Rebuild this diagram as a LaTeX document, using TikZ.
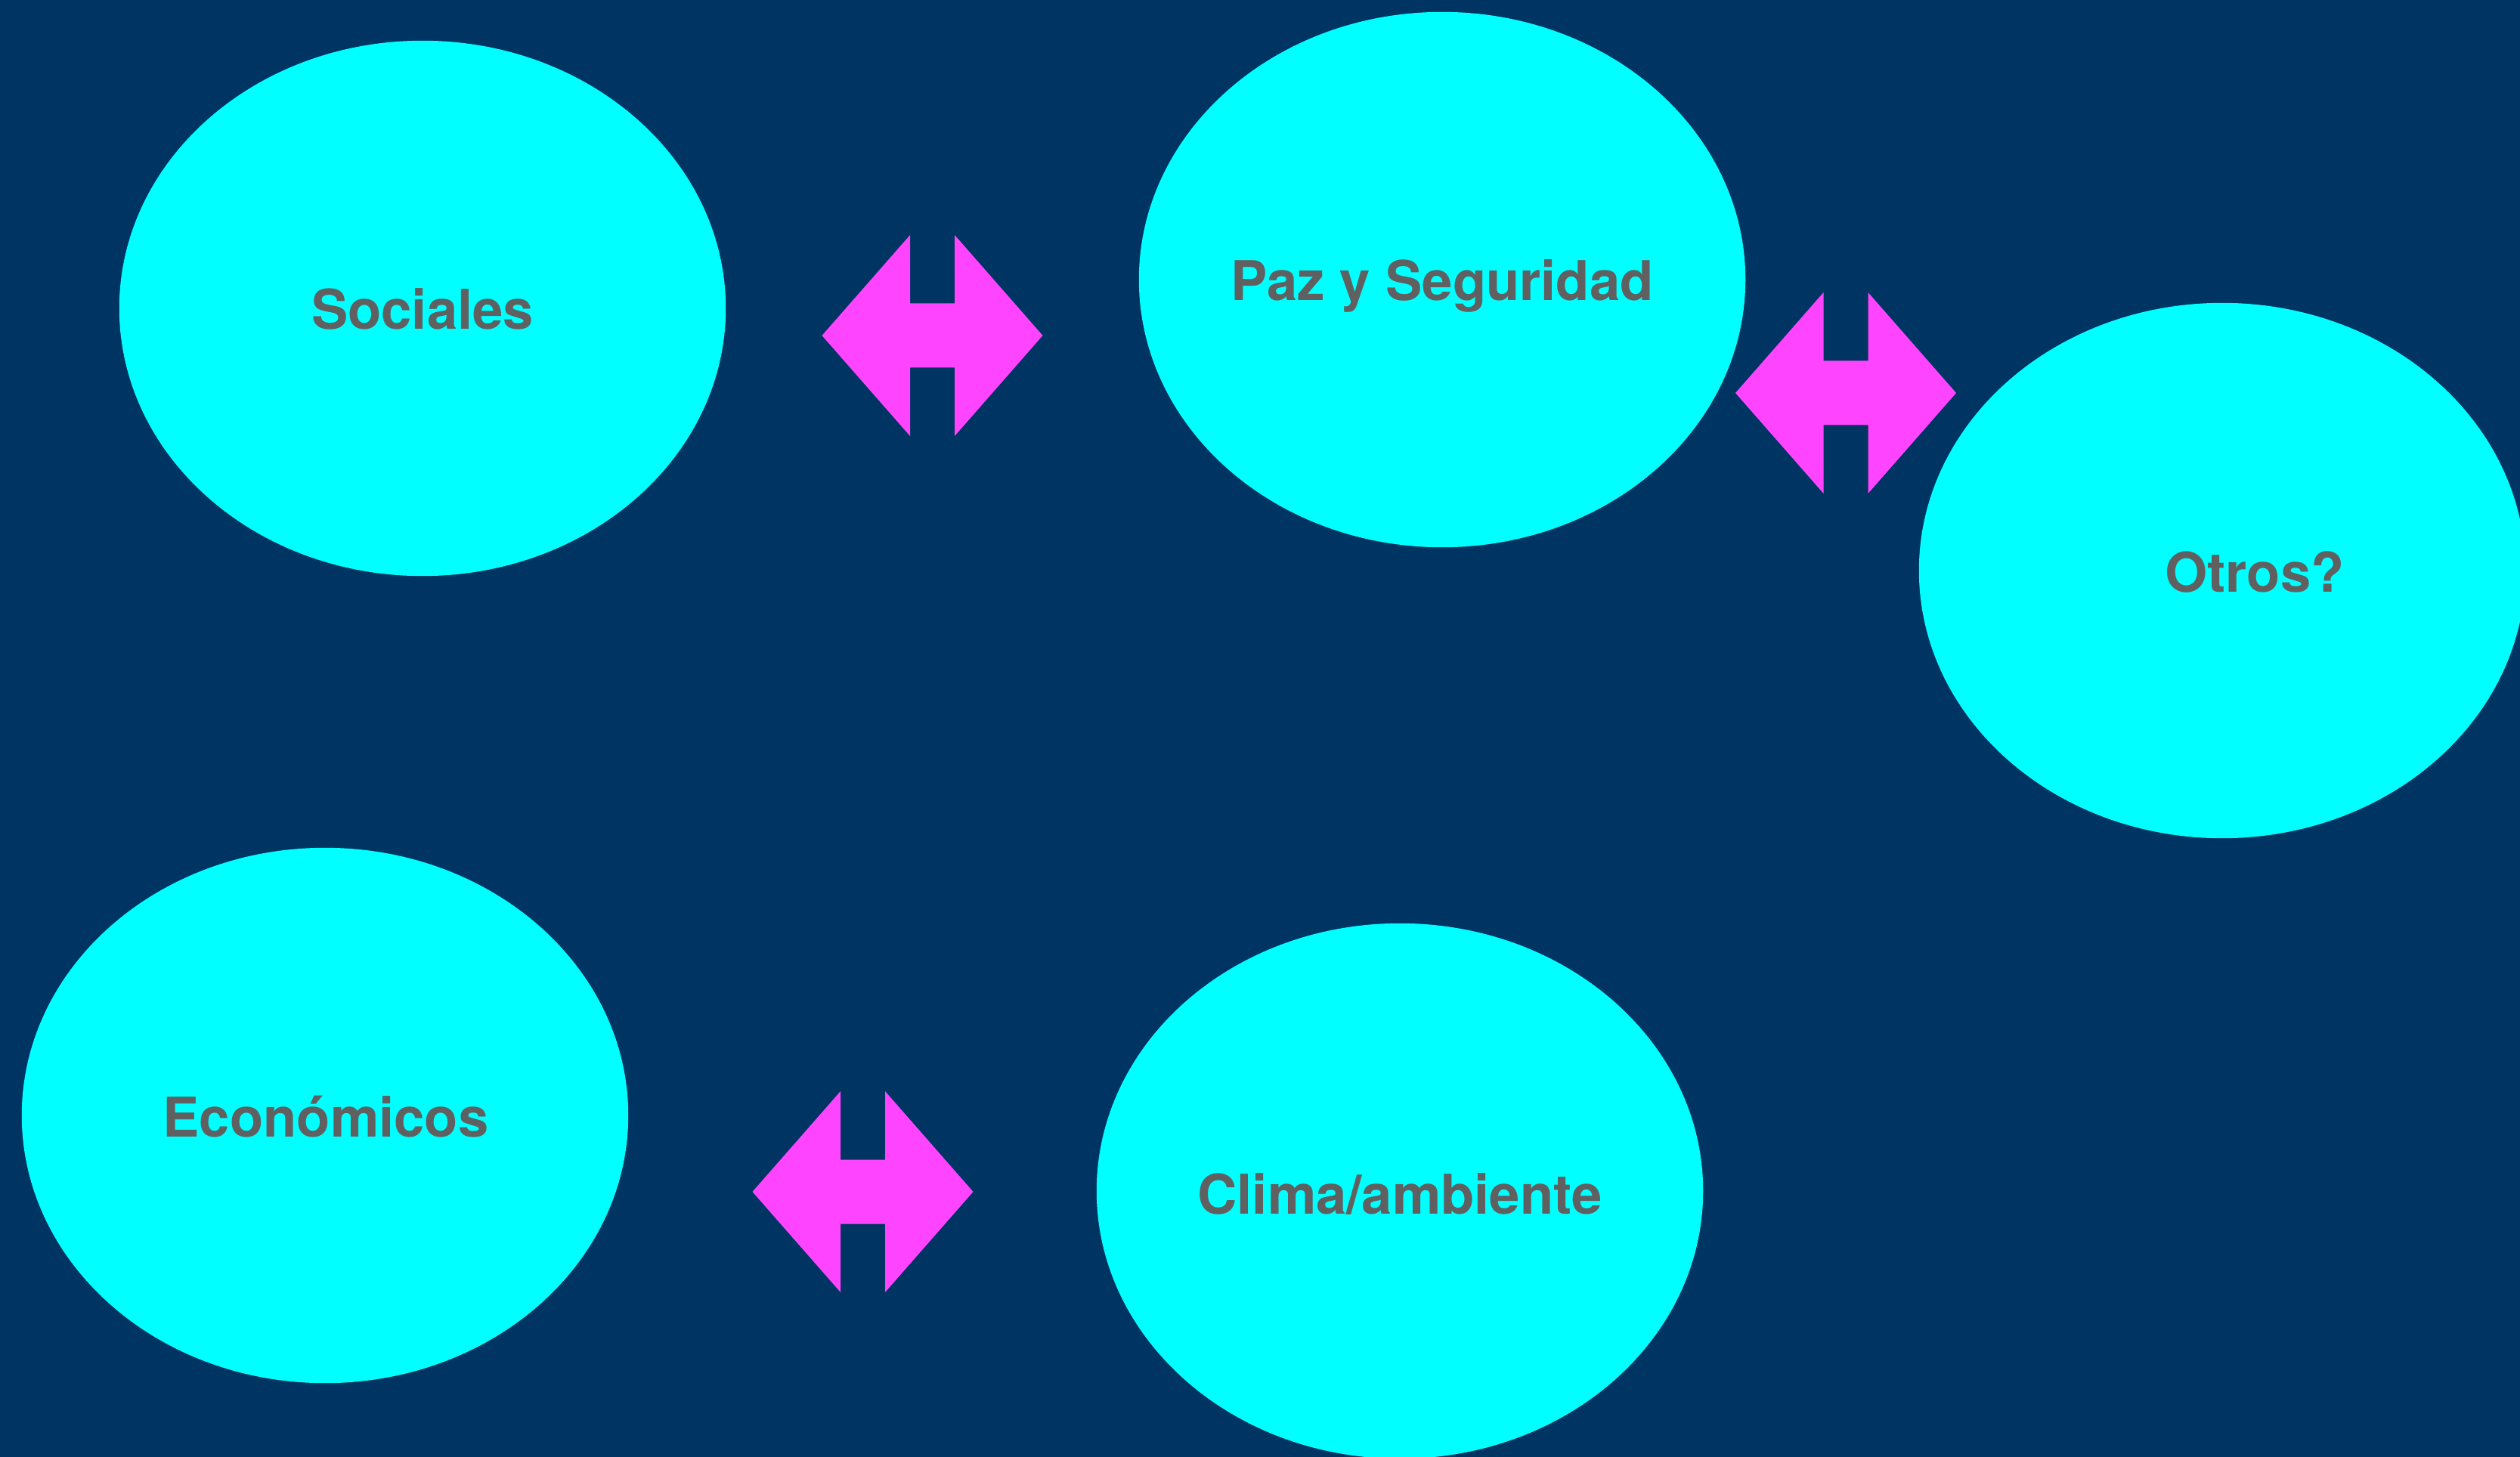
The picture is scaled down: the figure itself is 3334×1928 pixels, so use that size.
\documentclass[tikz,border=0pt]{standalone}
\usepackage{fontspec}
\setmainfont{TeX Gyre Heros}
\usetikzlibrary{shapes.geometric}
\definecolor{bg}{RGB}{0,52,98}
\definecolor{cyanfill}{RGB}{0,255,255}
\definecolor{mag}{RGB}{255,68,255}
\definecolor{txt}{RGB}{96,96,96}
\tikzset{
  blob/.style={ellipse, fill=cyanfill, draw=none, inner sep=0pt,
    minimum width=8.02cm, minimum height=7.08cm},
  lbl/.style={anchor=base, inner sep=0pt, text=txt,
    font=\fontsize{20.6}{24}\selectfont\bfseries},
  dblarrow/.pic={\fill[mag] (-146,0) -- (-29.5,133) -- (-29.5,42.5) -- (29.5,42.5)
    -- (29.5,133) -- (146,0) -- (29.5,-133) -- (29.5,-42.5) -- (-29.5,-42.5)
    -- (-29.5,-133) -- cycle;}
}
\begin{document}
\begin{tikzpicture}[x=0.01cm, y=-0.01cm]
\fill[bg] (0,0) rectangle (3334,1928);
\useasboundingbox (0,0) rectangle (3334,1928);
\begin{scope}
\clip (0,0) rectangle (3334,1928);
\node[blob] (soc) at (559,408) {};
\node[blob] (paz) at (1908,370) {};
\node[blob] (otr) at (2940,755) {};
\node[blob] (eco) at (430,1476) {};
\node[blob] (cli) at (1852,1576) {};
\end{scope}
\node[lbl] (socT) at (559,436) {Sociales};
\node[lbl] (pazT) at (1908,398) {Paz y Seguridad};
\node[lbl] (otrT) at (2983,783) {Otros?};
\node[lbl] (ecoT) at (431,1504) {Económicos};
\node[lbl] (cliT) at (1852,1606) {Clima/ambiente};
\coordinate (a1) at (1233.5,444);
\coordinate (a2) at (2442,520);
\coordinate (a3) at (1141.5,1577);
\pic at (a1) {dblarrow};
\pic at (a2) {dblarrow};
\pic at (a3) {dblarrow};
\end{tikzpicture}
\end{document}
